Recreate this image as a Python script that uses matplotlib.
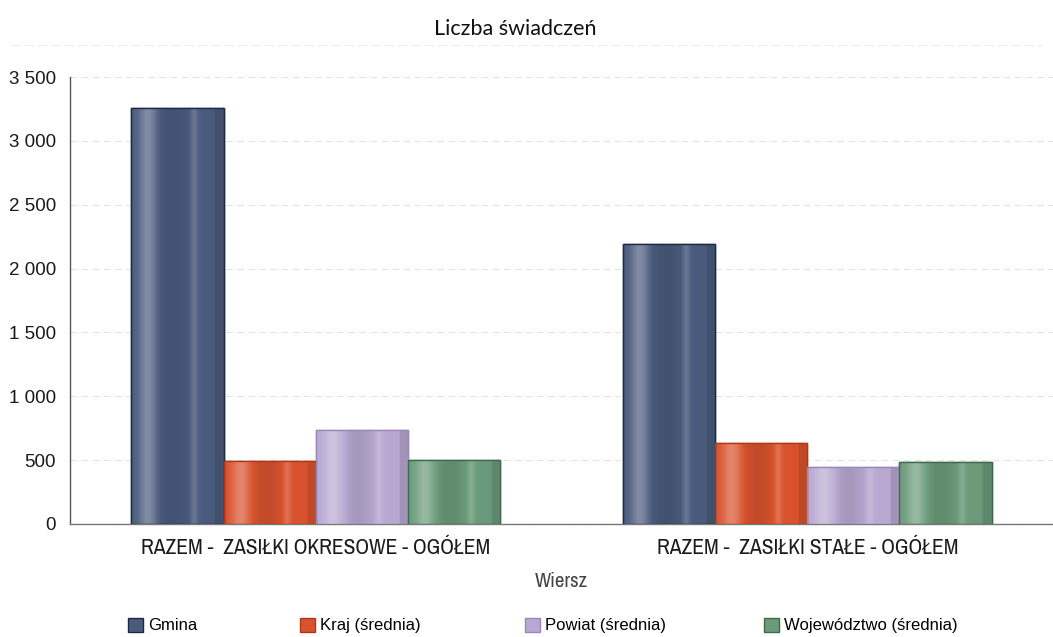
import numpy as np
import matplotlib
matplotlib.use("Agg")
import matplotlib.pyplot as plt
from matplotlib.patches import Patch
from matplotlib.colors import to_rgb
from matplotlib.ticker import FuncFormatter

categories = ["RAZEM -  ZASIŁKI OKRESOWE - OGÓŁEM", "RAZEM -  ZASIŁKI STAŁE - OGÓŁEM"]
series_names = ["Gmina", "Kraj (średnia)", "Powiat (średnia)", "Województwo (średnia)"]
gmina = [3260, 2190]
kraj = [495, 635]
powiat = [740, 445]
wojewodztwo = [500, 485]
colors = ["#4b5b7d", "#d8532e", "#b9a9d2", "#6b9b7a"]
edge_colors = ["#1e2a45", "#b0381a", "#9a88b8", "#3f6a4c"]
yticks = [0, 500, 1000, 1500, 2000, 2500, 3000, 3500]

series = [gmina, kraj, powiat, wojewodztwo]

narrow = ["Archivo Narrow", "DejaVu Sans"]
arial = ["Liberation Sans", "DejaVu Sans"]

fig = plt.figure(figsize=(10.53, 6.37), dpi=100)
ax = fig.add_axes([0.0665, 0.1774, 0.9335, 0.7015])

x = np.arange(len(categories))
bw = 0.1875
offsets = (np.arange(len(series)) - 1.5) * bw

# shading profile across bar width (cylindrical look)
prof_x = np.linspace(0, 1, 200)
shade = (0.30 * np.exp(-((prof_x - 0.18) / 0.10) ** 2)
         + 0.18 * np.exp(-((prof_x - 0.68) / 0.04) ** 2)
         - 0.10 * np.exp(-((prof_x - 0.45) / 0.15) ** 2)
         - 0.12 * (prof_x > 0.9))

for i, vals in enumerate(series):
    base = np.array(to_rgb(colors[i]))
    grad = np.empty((1, len(prof_x), 3))
    for k, s in enumerate(shade):
        if s >= 0:
            grad[0, k] = base + (1 - base) * s
        else:
            grad[0, k] = base * (1 + s)
    bars = ax.bar(x + offsets[i], vals, bw, color=colors[i], edgecolor=edge_colors[i],
                  linewidth=1.0, zorder=3, label=series_names[i])
    for b in bars:
        im = ax.imshow(grad, extent=[b.get_x(), b.get_x() + b.get_width(), 0, b.get_height()],
                       aspect="auto", zorder=3.5, interpolation="bilinear")
        im.set_clip_path(b)
        ax.add_patch(plt.Rectangle((b.get_x(), 0), b.get_width(), b.get_height(),
                                   fill=False, edgecolor=edge_colors[i], linewidth=1.0, zorder=4))

ax.set_xlim(-0.5, 1.5)
ax.set_ylim(0, 3500)
ax.set_yticks(yticks)
ax.yaxis.set_major_formatter(FuncFormatter(lambda v, p: f"{int(v):,}".replace(",", " ")))
ax.set_xticks(x)
ax.set_xticklabels(categories, fontsize=15.5, family=narrow, color="#1a1a1a")
ax.tick_params(axis="both", length=0)
ax.tick_params(axis="x", pad=10)
ax.tick_params(axis="y", labelsize=13.5, colors="#1a1a1a", pad=10)
for lbl in ax.get_yticklabels():
    lbl.set_family(arial)
ax.yaxis.grid(True, color="#dde4ec", linestyle=(0, (6, 4)), linewidth=0.8, zorder=0)
ax.set_axisbelow(True)
for s in ["top", "right"]:
    ax.spines[s].set_visible(False)
ax.spines["left"].set_color("#555555")
ax.spines["left"].set_linewidth(1.0)
ax.spines["bottom"].set_color("#777777")
ax.spines["bottom"].set_linewidth(1.0)

ax.set_xlabel("Wiersz", fontsize=15, family=narrow, color="#444444", labelpad=10)

fig.text(0.489, 0.955, "Liczba świadczeń", ha="center", va="center", fontsize=15.5,
         family=["Lato", "DejaVu Sans"], color="#111111")
fig.add_artist(plt.Line2D([0.01, 0.99], [0.929, 0.929], color="#e8eef5", linewidth=0.8,
                          linestyle=(0, (8, 4))))

handles = [Patch(facecolor=colors[i], edgecolor=edge_colors[i], label=series_names[i])
           for i in range(len(series))]
leg_x = [0.122, 0.285, 0.499, 0.726]
for h, lx in zip(handles, leg_x):
    fig.legend(handles=[h], loc="center left", bbox_to_anchor=(lx, 0.018), frameon=False,
               prop={"family": arial, "size": 12}, handlelength=0.9, handleheight=0.9,
               handletextpad=0.3, borderpad=0, borderaxespad=0)

fig.savefig("out.png", dpi=100)
